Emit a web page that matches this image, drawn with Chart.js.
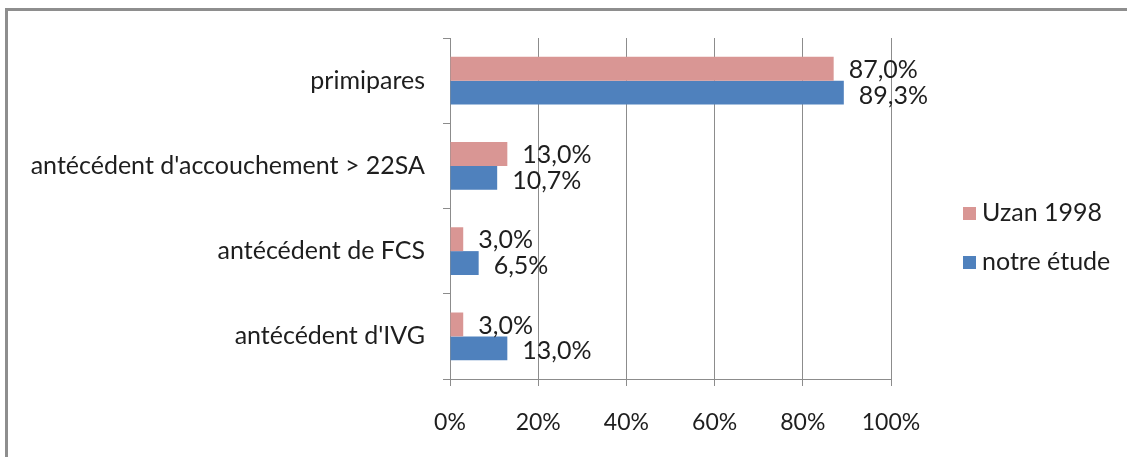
<!DOCTYPE html>
<html lang="fr">
<head>
<meta charset="UTF-8">
<script src="https://cdn.jsdelivr.net/npm/chart.js"></script>
<title>Antécédents</title>
<style>
  body { margin: 0; background: #fff; }
  #wrap { position: relative; width: 1127px; height: 457px; }
  #frame {
    position: absolute; left: 5px; top: 8px; right: 0; bottom: 0;
    border-top: 3px solid #8e8e8e; border-left: 3px solid #8e8e8e;
  }
  #legend {
    position: absolute; left: 963px; top: 196px;
    font-family: Lato, sans-serif; font-size: 25px; color: #1e1e1e;
  }
  #legend div { height: 49px; display: flex; align-items: flex-start; }
  #legend span.box { display: inline-block; width: 13px; height: 13px; margin: 11px 6px 0 0; }
  canvas { position: absolute; left: 0; top: 0; }
</style>
</head>
<body>
<div id="wrap">
  <div id="frame"></div>
  <canvas id="chart" width="1127" height="457"></canvas>
  <div id="legend"></div>
</div>
<script>
  // données
  var categories = ["primipares", "antécédent d'accouchement > 22SA", "antécédent de FCS", "antécédent d'IVG"];
  var uzan = [87.0, 13.0, 3.0, 3.0];
  var notreEtude = [89.3, 10.7, 6.5, 13.0];
  var seriesNames = ["Uzan 1998", "notre étude"];
  var seriesColors = ["#d99694", "#4f81bd"];
  var xTicks = [0, 20, 40, 60, 80, 100];

  var font = "Lato, sans-serif";

  // étiquettes de valeur à droite des barres
  var valueLabels = {
    id: 'valueLabels',
    afterDatasetsDraw: function(chart) {
      var ctx = chart.ctx;
      ctx.save();
      ctx.font = "25px " + font;
      ctx.fillStyle = "#1e1e1e";
      ctx.textBaseline = "middle";
      chart.data.datasets.forEach(function(ds, i) {
        var meta = chart.getDatasetMeta(i);
        meta.data.forEach(function(bar, j) {
          var txt = ds.data[j].toFixed(1).replace('.', ',') + "%";
          ctx.fillText(txt, bar.x + 15, bar.y + (i === 0 ? 1 : 3));
        });
      });
      ctx.restore();
    }
  };

  var ctx = document.getElementById('chart').getContext('2d');
  new Chart(ctx, {
    type: 'bar',
    data: {
      labels: categories,
      datasets: [
        { label: seriesNames[0], data: uzan, backgroundColor: seriesColors[0] },
        { label: seriesNames[1], data: notreEtude, backgroundColor: seriesColors[1] }
      ]
    },
    options: {
      indexAxis: 'y',
      responsive: false,
      animation: false,
      categoryPercentage: 0.56,
      barPercentage: 1.0,
      layout: { padding: { left: 0, right: 236, top: 38, bottom: 0 } },
      plugins: { legend: { display: false }, tooltip: { enabled: false } },
      scales: {
        x: {
          min: 0, max: 100,
          afterBuildTicks: function(axis) {
            axis.ticks = xTicks.map(function(v) { return { value: v }; });
          },
          afterFit: function(axis) { axis.height = 78; },
          grid: { color: "#8c8c8c", lineWidth: 1, tickLength: 7, drawTicks: true },
          border: { color: "#8c8c8c" },
          ticks: {
            padding: 23,
            color: "#1e1e1e",
            font: { family: font, size: 23 },
            callback: function(v) { return v + "%"; }
          }
        },
        y: {
          offset: true,
          afterFit: function(axis) { axis.width = 450; },
          grid: { offset: true, drawOnChartArea: false, color: "#8c8c8c", tickLength: 7 },
          border: { color: "#8c8c8c" },
          ticks: {
            padding: 18,
            color: "#1e1e1e",
            font: { family: font, size: 25 }
          }
        }
      }
    },
    plugins: [valueLabels]
  });

  var legend = document.getElementById('legend');
  seriesNames.forEach(function(name, i) {
    var row = document.createElement('div');
    var box = document.createElement('span');
    box.className = 'box';
    box.style.background = seriesColors[i];
    row.appendChild(box);
    row.appendChild(document.createTextNode(name));
    legend.appendChild(row);
  });
</script>
</body>
</html>
